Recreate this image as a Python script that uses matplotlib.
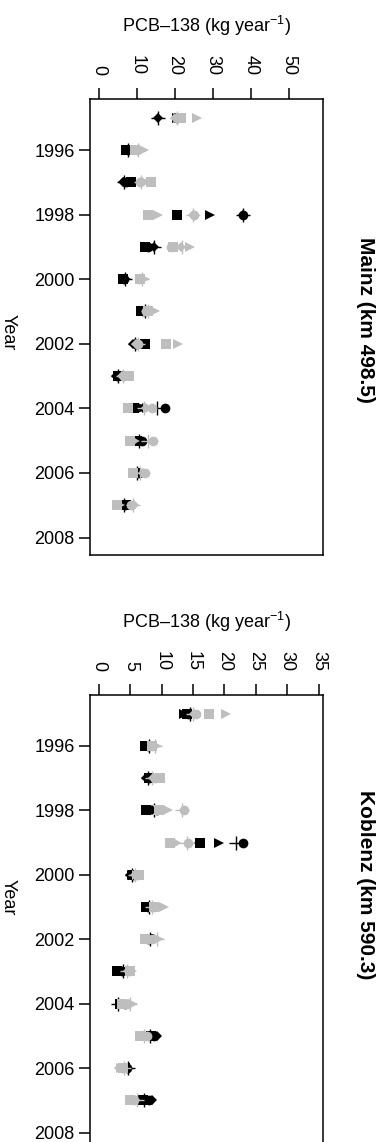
import matplotlib
matplotlib.use("Agg")
import matplotlib.pyplot as plt
import numpy as np

plt.rcParams['font.family'] = ['Liberation Sans', 'DejaVu Sans']
plt.rcParams['mathtext.fontset'] = 'custom'
plt.rcParams['mathtext.rm'] = 'Liberation Sans'
plt.rcParams['mathtext.it'] = 'Liberation Sans:italic'

years = [1995, 1996, 1997, 1998, 1999, 2000, 2001, 2002, 2003, 2004, 2005, 2006, 2007]
year_ticks = [1996, 1998, 2000, 2002, 2004, 2006, 2008]

# Mainz (km 498.5), black series
mainz_black_square = [21, 7, 8.5, 20.5, 12, 6.3, 11, 12, 5, 9.3, 10, 9.5, 7.2]
mainz_black_circle = [20.5, 7.5, 7, 38, 13, 6.5, 11.5, 9.8, 4.8, 17.4, 11.3, 10.5, 6.8]
mainz_black_triangle = [20.5, 8.2, 7.5, 29.4, 13.5, 7, 12.5, 10.5, 5.2, 11.7, 9.5, 10.3, 6]
mainz_black_diamond = [15.6, 7.8, 6.2, 38, 14.5, 6.6, 12, 9, 4.5, 11.5, 11, 10.2, 6.5]
mainz_black_plus = [15.6, 7.6, 6.5, 38, 14.5, 6.8, 12, 9.5, 5, 15.4, 10.5, 10, 6.5]
# Mainz, grey series
mainz_grey_square = [21.5, 9.5, 13.8, 12.9, 19.5, 10.8, 12.8, 17.7, 8, 7.7, 8.2, 9, 4.8]
mainz_grey_circle = [20.5, 10, 10.8, 25, 19, 10.5, 12.5, 10.2, 6.5, 13.9, 14.3, 12, 8.5]
mainz_grey_triangle = [25.8, 11.8, 12.5, 15.5, 24, 12, 14.8, 20.8, 7, 13, 9.5, 12, 5.5]
mainz_grey_diamond = [20, 10.5, 11, 24.9, 21.5, 11, 13, 9.8, 6, 12.5, 9, 11.5, 9.3]
mainz_grey_plus = [20.5, 10.3, 11, 24.9, 22, 11.3, 13, 10.2, 6.2, 11.8, 13, 10.8, 9]

# Koblenz (km 590.3), black series
koblenz_black_square = [14, 7.4, 8, 7.5, 16.1, 5.5, 7.5, 8, 2.9, 3.3, 8.3, 4.2, 7]
koblenz_black_circle = [14.2, 7.8, 8, 9.2, 23, 5.5, 7.8, 7.8, 3.6, 4.2, 8.8, 4.4, 8]
koblenz_black_triangle = [13.5, 8, 8.2, 8, 19.1, 5.2, 8.2, 8, 3.2, 4.3, 8.6, 4.4, 7.6]
koblenz_black_diamond = [14, 8, 7.5, 8.5, 16, 5, 8, 7.7, 3.4, 4.0, 9.2, 4.3, 8.4]
koblenz_black_plus = [14.5, 8, 7.8, 8.8, 21.9, 5.3, 8, 8.2, 3.8, 3.1, 8.2, 4.6, 7.2]
# Koblenz, grey series
koblenz_grey_square = [17.5, 8.5, 9.8, 9.5, 11.3, 6.3, 8.8, 7.4, 5, 3.6, 6.6, 3.8, 5]
koblenz_grey_circle = [15.5, 8.5, 9, 13.6, 14.2, 6, 8.7, 8.5, 4.8, 4.5, 7.6, 3.6, 5.6]
koblenz_grey_triangle = [20.3, 9.2, 9.2, 11, 12.5, 6, 10.3, 9.5, 5.2, 5.4, 6.8, 3.5, 5.3]
koblenz_grey_diamond = [15.2, 8.8, 8.6, 10, 12, 5.8, 9, 8.8, 4.6, 4.7, 7.4, 3.2, 5.8]
koblenz_grey_plus = [15, 8.9, 8.5, 13.3, 14, 5.8, 8.5, 9.2, 4.5, 5.0, 7.2, 4.0, 6]

GREY = '#BEBEBE'
W, H = 391, 1142
FS = 13


def draw_panel(ax, black, grey, xticks, xlim):
    styles = [('s', 6.5), ('o', 7), ('>', 7.5), ('D', 5.5), ('+', 10)]
    for vals, (m, ms) in zip(black, styles):
        ax.plot(vals, years, linestyle='none', marker=m, markersize=ms,
                color='black', markeredgewidth=1 if m == '+' else 0, clip_on=False)
    for vals, (m, ms) in zip(grey, styles):
        ax.plot(vals, years, linestyle='none', marker=m, markersize=ms,
                color=GREY, markeredgewidth=1 if m == '+' else 0, clip_on=False)
    ax.set_xlim(*xlim)
    ax.set_ylim(2008.54, 1994.42)
    ax.xaxis.tick_top()
    ax.xaxis.set_label_position('top')
    ax.set_xticks(xticks)
    ax.set_yticks(year_ticks)
    ax.tick_params(axis='x', labelrotation=-90, length=8, width=1.1, pad=9, labelsize=FS)
    ax.tick_params(axis='y', length=8, width=1.1, pad=3, labelsize=FS)
    for s in ax.spines.values():
        s.set_linewidth(1.1)
    ax.set_xlabel('PCB\u2013138 (kg year$^{-1}$)', fontsize=FS, labelpad=17)


fig = plt.figure(figsize=(W / 100, H / 100), dpi=100)

ax1 = fig.add_axes([90 / W, 1 - 555 / H, 233 / W, 456 / H])
draw_panel(ax1,
           [mainz_black_square, mainz_black_circle, mainz_black_triangle, mainz_black_diamond, mainz_black_plus],
           [mainz_grey_square, mainz_grey_circle, mainz_grey_triangle, mainz_grey_diamond, mainz_grey_plus],
           [0, 10, 20, 30, 40, 50], (-2.4, 59.1))

ax2 = fig.add_axes([90 / W, 1 - 1150 / H, 233 / W, 455 / H])
draw_panel(ax2,
           [koblenz_black_square, koblenz_black_circle, koblenz_black_triangle, koblenz_black_diamond, koblenz_black_plus],
           [koblenz_grey_square, koblenz_grey_circle, koblenz_grey_triangle, koblenz_grey_diamond, koblenz_grey_plus],
           [0, 5, 10, 15, 20, 25, 30, 35], (-1.43, 35.7))

fig.text(8 / W, 1 - 332 / H, 'Year', rotation=-90, ha='center', va='center', fontsize=FS)
fig.text(8 / W, 1 - 897 / H, 'Year', rotation=-90, ha='center', va='center', fontsize=FS)
fig.text(366 / W, 1 - 320 / H, 'Mainz (km 498.5)', rotation=-90, ha='center', va='center',
         fontsize=15, fontweight='bold')
fig.text(366 / W, 1 - 885 / H, 'Koblenz (km 590.3)', rotation=-90, ha='center', va='center',
         fontsize=15, fontweight='bold')

fig.savefig('out.png', dpi=100)
